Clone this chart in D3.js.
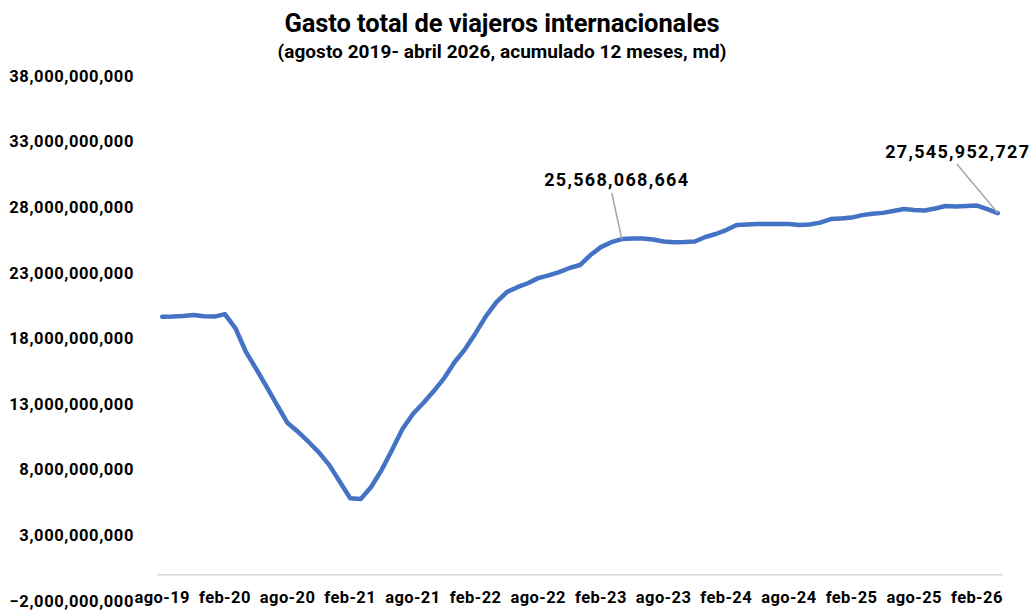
<!DOCTYPE html>
<html><head><meta charset="utf-8">
<script src="https://cdn.jsdelivr.net/npm/d3@7"></script>
<style>
html,body{margin:0;padding:0;background:#fff;}
svg{display:block;font-family:Roboto,"DejaVu Sans",sans-serif;}
</style></head>
<body><svg id="c" width="1036" height="612"></svg>
<script>
const categories = [
"ago-19","sep-19","oct-19","nov-19","dic-19",
"ene-20","feb-20","mar-20","abr-20","may-20","jun-20","jul-20","ago-20","sep-20","oct-20","nov-20","dic-20",
"ene-21","feb-21","mar-21","abr-21","may-21","jun-21","jul-21","ago-21","sep-21","oct-21","nov-21","dic-21",
"ene-22","feb-22","mar-22","abr-22","may-22","jun-22","jul-22","ago-22","sep-22","oct-22","nov-22","dic-22",
"ene-23","feb-23","mar-23","abr-23","may-23","jun-23","jul-23","ago-23","sep-23","oct-23","nov-23","dic-23",
"ene-24","feb-24","mar-24","abr-24","may-24","jun-24","jul-24","ago-24","sep-24","oct-24","nov-24","dic-24",
"ene-25","feb-25","mar-25","abr-25","may-25","jun-25","jul-25","ago-25","sep-25","oct-25","nov-25","dic-25",
"ene-26","feb-26","mar-26","abr-26"];
// billions of dollars
const gastoMilesMillones = [
19.65,19.66,19.70,19.78,19.68,19.66,19.85,18.79,17.00,15.67,14.30,12.92,11.55,10.89,10.13,9.32,8.35,7.08,5.82,5.76,
6.68,7.97,9.50,11.10,12.24,13.08,13.99,14.98,16.20,17.19,18.40,19.70,20.76,21.53,21.90,22.20,22.59,22.80,23.05,23.36,
23.59,24.35,24.95,25.33,25.568068664,25.60,25.60,25.53,25.38,25.32,25.34,25.38,25.72,25.95,26.25,26.63,26.67,26.71,26.71,26.71,
26.71,26.63,26.67,26.82,27.09,27.14,27.20,27.39,27.49,27.56,27.70,27.85,27.78,27.74,27.89,28.08,28.04,28.08,28.12,27.85,
27.545952727];
const xTickLabels = ["ago-19","feb-20","ago-20","feb-21","ago-21","feb-22","ago-22","feb-23","ago-23","feb-24","ago-24","feb-25","ago-25","feb-26"];
const yTicks = [-2e9,3e9,8e9,13e9,18e9,23e9,28e9,33e9,38e9];
const labeledPoints = ["abr-23","abr-26"];
const title = "Gasto total de viajeros internacionales";
const subtitle = "(agosto 2019- abril 2026, acumulado 12 meses, md)";

const data = categories.map((c,i)=>({c, v: gastoMilesMillones[i]*1e9}));
const svg = d3.select("#c");
const x = d3.scaleBand().domain(categories).range([157,1003]);
const y = d3.scaleLinear().domain([-2e9,38e9]).range([601,75.8]);
const cx = c => x(c) + x.bandwidth()/2;
const fmt = d3.format(",.0f");

svg.append("text").attr("x",502).attr("y",32).attr("text-anchor","middle")
  .attr("font-size",25.5).attr("font-weight",700).attr("fill","#000").attr("letter-spacing",-0.1).text(title);
svg.append("text").attr("x",502).attr("y",58).attr("text-anchor","middle")
  .attr("font-size",19).attr("font-weight",700).attr("fill","#000").attr("letter-spacing",0.05).text(subtitle);

// y axis labels
const ya = d3.axisLeft(y).tickValues(yTicks).tickFormat(fmt).tickSize(0).tickPadding(0);
const yg = svg.append("g").attr("transform","translate(134,0)").call(ya);
yg.select(".domain").remove();
yg.selectAll("text").attr("font-size",16.5).attr("font-weight",700).attr("fill","#000")
  .attr("font-family","Roboto, sans-serif").attr("letter-spacing",0.6);

// x axis line at zero
svg.append("line").attr("x1",157).attr("x2",1003).attr("y1",y(0)).attr("y2",y(0))
  .attr("stroke","#d9d9d9").attr("stroke-width",1.5);

// x labels (low position)
const xa = d3.axisBottom(x).tickValues(xTickLabels).tickSize(0).tickPadding(0);
const xg = svg.append("g").attr("transform","translate(0,591)").call(xa);
xg.select(".domain").remove();
xg.selectAll("text").attr("font-size",16.5).attr("font-weight",700).attr("fill","#000")
  .attr("font-family","Roboto, sans-serif").attr("letter-spacing",0.4);

// line
const line = d3.line().x(d=>cx(d.c)).y(d=>y(d.v));
svg.append("path").datum(data).attr("d",line).attr("fill","none")
  .attr("stroke","#4472C4").attr("stroke-width",4.5)
  .attr("stroke-linejoin","round").attr("stroke-linecap","round");

// labels with leader lines
const labelOffsets = {"abr-23":{dx:-5,dy:-53,lx:-10,ly:-46}, "abr-26":{dx:-40,dy:-55,lx:-41,ly:-49}};
labeledPoints.forEach(c=>{
  const d = data.find(e=>e.c===c);
  const px = cx(d.c), py = y(d.v), o = labelOffsets[c];
  svg.append("line").attr("x1",px).attr("y1",py).attr("x2",px+o.lx).attr("y2",py+o.ly)
    .attr("stroke","#a6a6a6").attr("stroke-width",1.5);
  svg.append("text").attr("x",px+o.dx).attr("y",py+o.dy).attr("text-anchor","middle")
    .attr("font-size",18).attr("font-weight",700).attr("fill","#000").attr("letter-spacing",1.3)
    .text(fmt(d.v));
});
</script></body></html>
